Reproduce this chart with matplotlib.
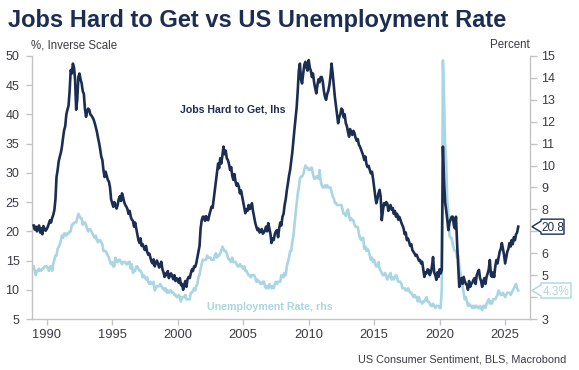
import numpy as np
import pandas as pd
import matplotlib
matplotlib.use("Agg")
import matplotlib.pyplot as plt
import matplotlib.dates as mdates
from matplotlib.patches import Polygon
from matplotlib.transforms import IdentityTransform

plt.rcParams['font.family'] = ['Liberation Sans', 'DejaVu Sans']

# ---------------- data (monthly, Jan 1989 .. Jan 2026) ----------------
start_month = "1989-01-01"

jobs_hard_to_get = [
    21.0,20.3,20.8,20.0,20.6,21.0,19.8,20.5,19.5,20.9,20.4,20.1,   # 1989
    20.4,20.8,21.3,21.9,21.5,22.3,22.8,23.6,25.5,29.3,30.5,32.0,   # 1990
    32.8,33.5,34.5,36.0,37.3,38.0,40.0,40.8,41.5,44.0,47.6,47.0,   # 1991
    48.7,48.0,46.0,40.8,42.5,46.4,47.0,46.0,45.3,44.0,43.5,41.0,   # 1992
    39.6,40.5,41.0,40.8,40.0,39.8,39.5,39.1,38.5,37.8,37.0,36.0,   # 1993
    35.1,34.0,32.8,32.2,30.5,29.3,30.2,29.5,28.8,28.5,27.5,25.5,   # 1994
    24.8,24.2,25.0,24.5,23.9,24.5,25.5,26.0,25.2,26.5,25.8,25.0,   # 1995
    24.5,24.2,23.8,23.0,23.5,22.5,22.0,21.8,20.8,21.5,20.5,19.5,   # 1996
    18.5,18.0,18.8,17.5,17.8,17.2,16.8,17.5,16.5,16.0,16.2,15.5,   # 1997
    14.8,14.5,15.2,14.0,14.6,15.0,14.5,13.8,14.2,14.8,13.5,13.0,   # 1998
    12.2,12.8,12.5,13.2,12.0,12.6,12.8,12.3,11.8,12.5,11.5,12.0,   # 1999
    11.7,11.2,12.0,10.8,11.0,10.0,10.8,11.5,10.5,11.8,12.2,12.0,   # 2000
    12.8,13.5,13.2,14.0,13.9,14.5,15.5,16.5,17.5,20.5,21.9,22.5,   # 2001
    22.5,21.8,22.6,22.0,21.9,22.8,23.5,24.2,24.0,25.5,27.1,28.5,   # 2002
    30.0,31.6,30.8,32.5,31.6,33.0,34.5,33.2,33.8,32.5,32.2,31.5,   # 2003
    30.5,31.0,29.5,28.8,29.8,28.5,27.8,28.2,27.6,26.5,27.0,26.0,   # 2004
    25.0,24.0,23.1,23.8,23.5,24.5,23.8,24.0,24.8,23.5,22.5,21.5,   # 2005
    20.8,20.2,20.5,19.8,20.0,20.4,19.6,19.8,20.2,20.8,20.0,21.4,   # 2006
    20.5,19.5,18.0,18.8,18.5,19.5,20.0,20.2,19.0,20.5,21.5,21.0,   # 2007
    22.5,23.0,24.5,25.5,27.0,28.2,29.5,30.5,32.0,33.5,35.6,37.5,   # 2008
    39.5,41.3,44.0,47.5,48.7,46.0,45.3,47.0,48.5,49.0,48.0,47.5,   # 2009
    49.3,48.0,47.5,46.4,47.0,45.5,44.5,43.6,45.0,46.0,45.5,46.4,   # 2010
    46.4,45.5,44.0,43.0,42.5,43.5,44.0,45.0,46.5,48.7,47.0,45.0,   # 2011
    43.0,41.5,40.0,38.5,39.5,40.0,41.0,40.8,39.5,40.0,38.5,38.0,   # 2012
    37.0,36.2,37.5,37.0,36.5,37.2,36.8,36.0,35.5,35.8,34.8,34.5,   # 2013
    34.0,33.5,33.0,32.2,32.8,31.5,31.0,31.2,30.5,29.9,30.2,29.0,   # 2014
    27.5,26.0,24.8,25.5,26.5,27.1,26.0,21.9,23.5,24.8,24.5,25.0,   # 2015
    24.8,23.5,24.2,24.5,23.7,24.0,23.0,23.5,22.5,23.0,22.0,22.5,   # 2016
    22.0,21.4,21.0,20.5,19.5,19.8,18.5,18.8,18.2,17.5,17.8,16.8,   # 2017
    16.5,16.2,15.8,16.0,15.5,15.0,15.1,14.5,14.8,13.5,12.2,13.0,   # 2018
    12.8,13.5,13.4,12.5,13.0,14.0,15.6,13.0,12.5,11.7,13.0,12.2,   # 2019
    13.5,12.8,13.4,34.5,29.0,25.0,23.6,22.0,20.2,21.5,22.0,22.5,   # 2020
    22.5,21.0,20.5,22.5,18.0,14.0,10.5,11.5,12.0,11.0,12.2,11.5,   # 2021
    11.0,10.8,10.0,11.5,10.5,11.0,11.2,11.7,12.0,11.0,12.5,13.0,   # 2022
    13.4,12.0,11.5,10.5,11.5,12.0,11.0,12.2,12.8,13.5,15.1,12.5,   # 2023
    12.2,13.0,12.2,14.0,15.1,14.5,15.5,16.5,17.0,18.0,17.0,16.0,   # 2024
    14.5,15.5,16.5,17.0,18.0,17.4,18.5,17.8,19.0,18.5,19.5,19.8,   # 2025
    20.8,                                                          # 2026
]

unemployment_rate = [
    5.4,5.2,5.0,5.2,5.2,5.3,5.2,5.2,5.3,5.3,5.4,5.4,   # 1989
    5.4,5.3,5.2,5.4,5.4,5.2,5.5,5.7,5.9,5.9,6.2,6.3,   # 1990
    6.4,6.6,6.8,6.7,6.9,6.9,6.8,6.9,6.9,7.0,7.0,7.3,   # 1991
    7.3,7.4,7.4,7.4,7.6,7.8,7.7,7.6,7.6,7.3,7.4,7.4,   # 1992
    7.3,7.1,7.0,7.1,7.1,7.0,6.9,6.8,6.7,6.8,6.6,6.5,   # 1993
    6.6,6.6,6.5,6.4,6.1,6.1,6.1,6.0,5.9,5.8,5.6,5.5,   # 1994
    5.6,5.4,5.4,5.8,5.6,5.6,5.7,5.7,5.6,5.5,5.6,5.6,   # 1995
    5.6,5.5,5.5,5.6,5.6,5.3,5.5,5.1,5.2,5.2,5.4,5.4,   # 1996
    5.3,5.2,5.2,5.1,4.9,5.0,4.9,4.8,4.9,4.7,4.6,4.7,   # 1997
    4.6,4.6,4.7,4.3,4.4,4.5,4.5,4.5,4.6,4.5,4.4,4.4,   # 1998
    4.3,4.4,4.2,4.3,4.2,4.3,4.3,4.2,4.2,4.1,4.1,4.0,   # 1999
    4.0,4.1,4.0,3.8,4.0,4.0,4.0,4.1,3.9,3.9,3.9,3.9,   # 2000
    4.2,4.2,4.3,4.4,4.3,4.5,4.6,4.9,5.0,5.3,5.5,5.7,   # 2001
    5.7,5.7,5.7,5.9,5.8,5.8,5.8,5.7,5.7,5.7,5.9,6.0,   # 2002
    5.8,5.9,5.9,6.0,6.1,6.3,6.2,6.1,6.1,6.0,5.8,5.7,   # 2003
    5.7,5.6,5.8,5.6,5.6,5.6,5.5,5.4,5.4,5.5,5.4,5.4,   # 2004
    5.3,5.4,5.2,5.2,5.1,5.0,5.0,4.9,5.0,5.0,5.0,4.9,   # 2005
    4.7,4.8,4.7,4.7,4.6,4.6,4.7,4.7,4.5,4.4,4.5,4.4,   # 2006
    4.6,4.5,4.4,4.5,4.4,4.6,4.7,4.6,4.7,4.7,4.7,5.0,   # 2007
    5.0,4.9,5.1,5.0,5.4,5.6,5.8,6.1,6.1,6.5,6.8,7.3,   # 2008
    7.8,8.3,8.7,9.0,9.4,9.5,9.5,9.6,9.8,10.0,9.9,9.9,  # 2009
    9.8,9.8,9.9,9.9,9.6,9.4,9.4,9.5,9.5,9.4,9.8,9.3,   # 2010
    9.1,9.0,9.0,9.1,9.0,9.1,9.0,9.0,9.0,8.8,8.6,8.5,   # 2011
    8.3,8.3,8.2,8.2,8.2,8.2,8.2,8.0,7.8,7.8,7.7,7.9,   # 2012
    8.0,7.7,7.5,7.6,7.5,7.5,7.3,7.2,7.2,7.2,6.9,6.7,   # 2013
    6.6,6.7,6.7,6.2,6.3,6.1,6.2,6.1,5.9,5.7,5.8,5.6,   # 2014
    5.7,5.5,5.4,5.4,5.6,5.3,5.2,5.1,5.0,5.0,5.1,5.0,   # 2015
    4.8,4.9,5.0,5.1,4.8,4.9,4.8,4.9,5.0,4.9,4.7,4.7,   # 2016
    4.7,4.6,4.4,4.4,4.4,4.3,4.3,4.4,4.3,4.2,4.2,4.1,   # 2017
    4.0,4.1,4.0,4.0,3.8,4.0,3.8,3.8,3.7,3.8,3.8,3.9,   # 2018
    4.0,3.8,3.8,3.7,3.6,3.6,3.7,3.6,3.5,3.6,3.6,3.6,   # 2019
    3.5,3.5,4.4,14.8,13.2,11.0,10.2,8.4,7.8,6.8,6.7,6.7,  # 2020
    6.4,6.2,6.1,6.1,5.8,5.9,5.4,5.1,4.7,4.5,4.2,3.9,   # 2021
    4.0,3.8,3.6,3.7,3.6,3.6,3.5,3.6,3.5,3.6,3.6,3.5,   # 2022
    3.5,3.6,3.5,3.4,3.6,3.6,3.5,3.7,3.8,3.9,3.7,3.8,   # 2023
    3.7,3.9,3.9,3.9,4.0,4.1,4.3,4.2,4.1,4.1,4.2,4.1,   # 2024
    4.0,4.1,4.2,4.2,4.2,4.1,4.2,4.3,4.4,4.5,4.6,4.4,   # 2025
    4.3,                                               # 2026
]

left_ticks = [5, 10, 15, 20, 25, 30, 35, 40, 45, 50]
right_ticks = [3, 4, 5, 6, 7, 8, 9, 10, 11, 12, 13, 14, 15]
right_hidden = [4, 7]   # labels covered by the value tags

title = "Jobs Hard to Get vs US Unemployment Rate"
left_unit = "%, Inverse Scale"
right_unit = "Percent"
source = "US Consumer Sentiment, BLS, Macrobond"
jobs_label = "Jobs Hard to Get, lhs"
unemp_label = "Unemployment Rate, rhs"

# ---------------- styling ----------------
NAVY = "#1c2d52"
LIGHT = "#a9d6e2"
SPINE = "#c4c4c4"
TXT = "#3a3a46"

W, H = 579, 370
fig = plt.figure(figsize=(W / 100, H / 100), dpi=100)
ax = fig.add_axes([32 / W, 1 - 319 / H, (530 - 32) / W, (319 - 56) / H])
ax2 = ax.twinx()

dates = pd.date_range(start_month, periods=len(jobs_hard_to_get), freq="MS")

ax2.plot(dates, unemployment_rate, color=LIGHT, lw=1.9, solid_joinstyle="round", zorder=2)
ax.plot(dates, jobs_hard_to_get, color=NAVY, lw=1.9, solid_joinstyle="round", zorder=3)
ax.set_zorder(ax2.get_zorder() + 1)
ax.patch.set_visible(False)

ax.set_ylim(5, 50)
ax2.set_ylim(3, 15)
ax.set_yticks(left_ticks)
ax2.set_yticks(right_ticks)
ax2.set_yticklabels(["" if t in right_hidden else str(t) for t in right_ticks])
ax.set_xlim(pd.Timestamp("1988-11-16"), pd.Timestamp("2026-11-25"))
ax.xaxis.set_major_locator(mdates.YearLocator(5))
ax.xaxis.set_major_formatter(mdates.DateFormatter("%Y"))

for a in (ax, ax2):
    for s in a.spines.values():
        s.set_color(SPINE)
        s.set_linewidth(1.0)
    a.spines["top"].set_visible(False)
ax.spines["right"].set_visible(False)
ax2.spines["left"].set_visible(False)
ax2.spines["bottom"].set_visible(False)

ax.tick_params(axis="y", direction="out", length=4, width=1, color=SPINE,
               labelsize=9, labelcolor=TXT, pad=5)
ax.tick_params(axis="x", direction="out", length=4, width=1, color=SPINE,
               labelsize=9.3, labelcolor=TXT, pad=3)
ax2.tick_params(axis="y", direction="out", length=5, width=1, color=SPINE,
                labelsize=9, labelcolor=TXT, pad=3)

# texts
fig.text(8 / W, 1 - 27.5 / H, title, fontsize=17, weight="bold", color=NAVY,
         va="baseline", ha="left")
fig.text(31 / W, 1 - 48.5 / H, left_unit, fontsize=8.3, color=TXT, va="baseline", ha="left")
fig.text(530 / W, 1 - 48.5 / H, right_unit, fontsize=8.3, color=TXT, va="baseline", ha="right")
fig.text(566 / W, 1 - 362 / H, source, fontsize=7.8, color=TXT, va="baseline", ha="right")

fig.text(180 / W, 1 - 109 / H, jobs_label, fontsize=7.6, weight="bold", color=NAVY,
         va="center", ha="left")
fig.text(207 / W, 1 - 307 / H, unemp_label, fontsize=7.7, weight="bold", color=LIGHT,
         va="center", ha="left")


# value tags on the right axis
def tag(axis, value, text, color, box_w):
    fig.canvas.draw()
    yd = axis.transData.transform((0, value))[1]
    xs = ax.transAxes.transform((1, 0))[0]
    tip = xs + 2
    bl = tip + 9
    br = bl + box_w
    hh = 7.5
    ph = 5.5
    verts = [(tip, yd), (bl, yd + ph), (bl, yd + hh), (br, yd + hh),
             (br, yd - hh), (bl, yd - hh), (bl, yd - ph)]
    poly = Polygon(verts, closed=True, facecolor="white", edgecolor=color,
                   lw=1.0, transform=IdentityTransform(), clip_on=False, zorder=10)
    fig.add_artist(poly)
    fx, fy = fig.transFigure.inverted().transform(((bl + br) / 2, yd))
    fig.text(fx, fy, text, fontsize=8.5, color=color, ha="center", va="center_baseline",
             zorder=11)


tag(ax, jobs_hard_to_get[-1], f"{jobs_hard_to_get[-1]:.1f}", NAVY, 23)
tag(ax2, unemployment_rate[-1], f"{unemployment_rate[-1]:.1f}%", LIGHT, 30)

fig.savefig("out.png", dpi=100)
